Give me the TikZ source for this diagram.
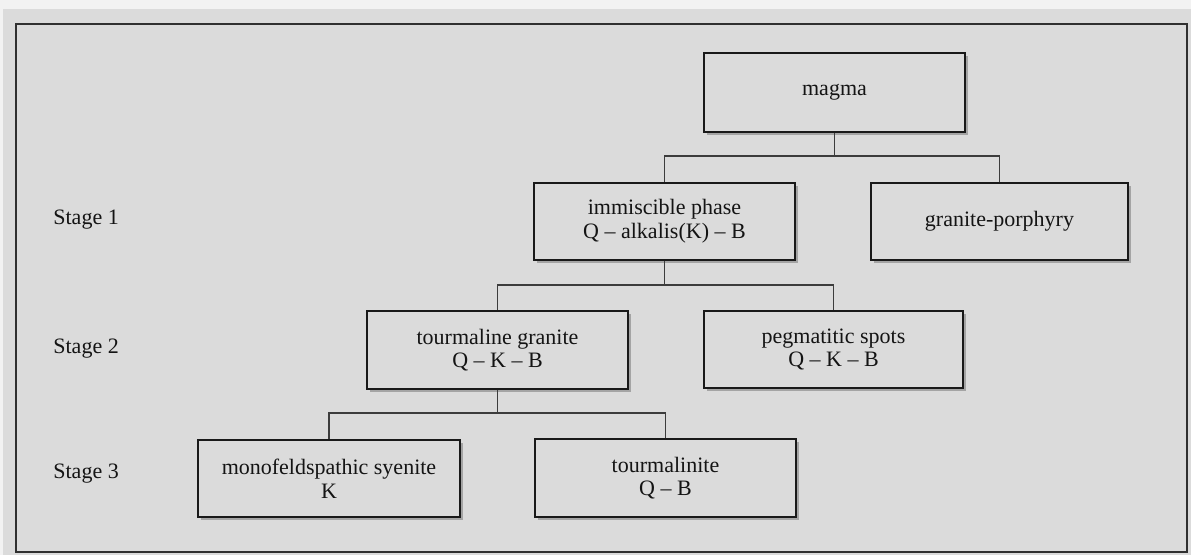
\documentclass[tikz,border=0pt]{standalone}
\usepackage{fontspec}
\setmainfont{Liberation Serif}
\usetikzlibrary{shadows}
\definecolor{bgcol}{RGB}{219,219,219}
\definecolor{edgecol}{RGB}{25,25,25}
\definecolor{inkcol}{RGB}{20,20,20}
\definecolor{shadcol}{RGB}{110,110,110}
\tikzset{
  box/.style={draw=edgecol, line width=0.75pt, fill=bgcol, rectangle, inner sep=0pt,
    align=center, text=inkcol, font=\fontsize{11}{11.8}\selectfont,
    drop shadow={shadow xshift=1.3pt, shadow yshift=-1.3pt, fill=shadcol}},
  link/.style={draw=edgecol!85, line width=0.7pt},
  stagelbl/.style={text=inkcol, font=\fontsize{11}{13}\selectfont, inner sep=0pt, anchor=west}
}
\begin{document}
\begin{tikzpicture}[x=0.5pt, y=-0.5pt]
\useasboundingbox (0,0) rectangle (1191,555);
\fill[white!95!black] (0,0) rectangle (1191,555);
\fill[bgcol] (3,9) rectangle (1191,555);
\draw[edgecol!90, line width=1.2pt] (16,24) rectangle (1187,552);

\node[box, minimum width=130.5pt, minimum height=39.5pt] (magma) at (834.5,92.5) {magma};
\node[box, minimum width=130.5pt, minimum height=38.5pt] (imm) at (664.5,221.5) {immiscible phase\\Q -- alkalis(K) -- B};
\node[box, minimum width=128.5pt, minimum height=38.5pt] (gp) at (999.5,221.5) {granite-porphyry};
\node[box, minimum width=130.5pt, minimum height=39pt] (tg) at (497.5,350) {tourmaline granite\\Q -- K -- B};
\node[box, minimum width=129.5pt, minimum height=38.5pt] (peg) at (833.5,349.5) {pegmatitic spots\\Q -- K -- B};
\node[box, minimum width=131pt, minimum height=38.5pt] (mono) at (329,478.5) {monofeldspathic syenite\\K};
\node[box, minimum width=130.5pt, minimum height=39pt] (tourm) at (665.5,478) {tourmalinite\\Q -- B};

\node[stagelbl] (s1) at (53,220) {Stage 1};
\node[stagelbl] (s2) at (53,349) {Stage 2};
\node[stagelbl] (s3) at (53,474) {Stage 3};

\coordinate (j1) at (magma.south |- 0,156);
\coordinate (j2) at (imm.south |- 0,285);
\coordinate (j3) at (tg.south |- 0,413);

\draw[link] (magma.south) -- (j1);
\draw[link] (imm.north) |- (j1) -| (gp.north);
\draw[link] (imm.south) -- (j2);
\draw[link] (tg.north) |- (j2) -| (peg.north);
\draw[link] (tg.south) -- (j3);
\draw[link] (mono.north) |- (j3) -| (tourm.north);
\end{tikzpicture}
\end{document}
